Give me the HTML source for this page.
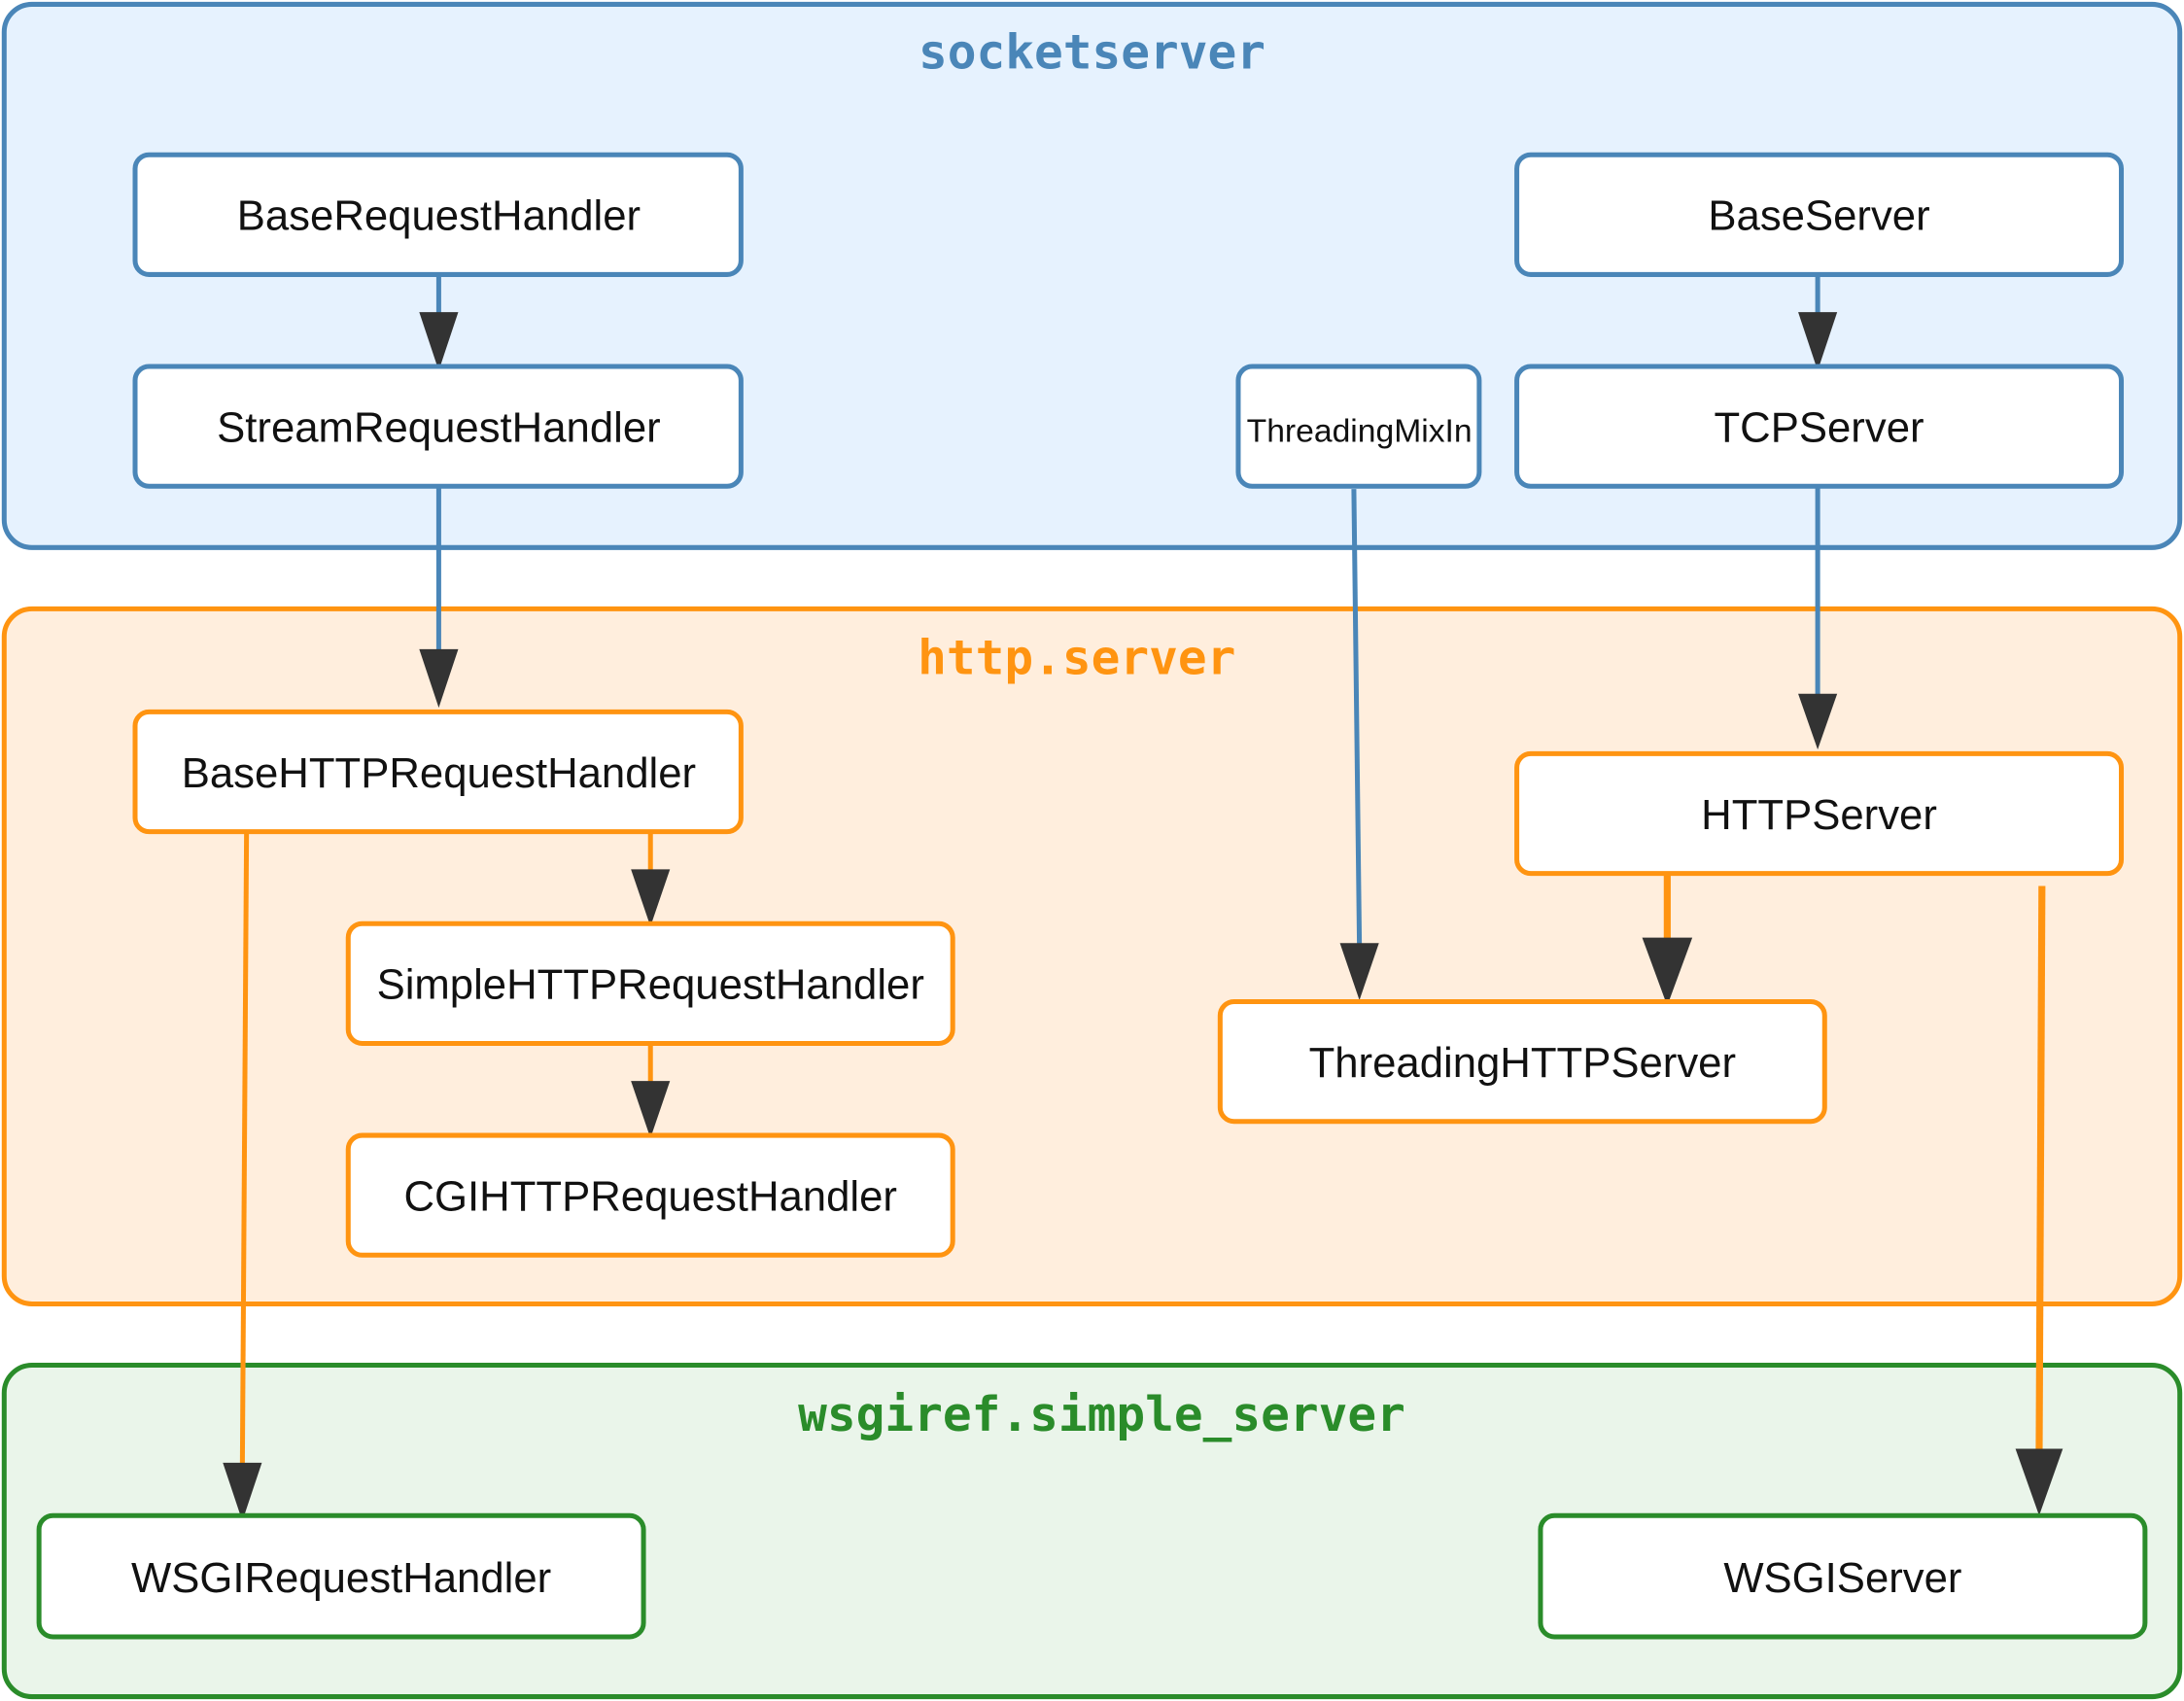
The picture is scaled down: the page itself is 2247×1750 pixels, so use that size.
<!DOCTYPE html>
<html><head><meta charset="utf-8"><style>html,body{margin:0;padding:0;background:#fff}svg{display:block}</style></head><body>
<svg width="2247" height="1750" viewBox="0 0 1568 1221" xmlns="http://www.w3.org/2000/svg">
<g stroke-width="3.5">
<rect x="3" y="3" width="1562" height="390" rx="20" fill="#e6f2fe" stroke="#4a86b8"/>
<rect x="3" y="437" width="1562" height="499" rx="20" fill="#ffeedd" stroke="#ff9411"/>
<rect x="3" y="980" width="1562" height="238" rx="20" fill="#eaf5ea" stroke="#2a8c2a"/>
</g>
<g font-family="'DejaVu Sans Mono',monospace" font-weight="bold" font-size="34.5" text-anchor="middle">
<text x="784" y="49" fill="#4a86b8">socketserver</text>
<text x="773" y="484" fill="#ff9411">http.server</text>
<text x="791" y="1027" fill="#2a8c2a">wsgiref.simple_server</text>
</g>
<g fill="none" stroke-width="3.5">
<line x1="315" y1="197" x2="315" y2="230" stroke="#4a86b8"/>
<line x1="315" y1="349" x2="315" y2="470" stroke="#4a86b8"/>
<line x1="1305" y1="197" x2="1305" y2="230" stroke="#4a86b8"/>
<line x1="1305" y1="349" x2="1305" y2="502" stroke="#4a86b8"/>
<line x1="972" y1="351" x2="976" y2="680" stroke="#4a86b8"/>
<line x1="467" y1="597" x2="467" y2="628" stroke="#ff9411"/>
<line x1="467" y1="749" x2="467" y2="780" stroke="#ff9411"/>
<line x1="177" y1="597" x2="174" y2="1054" stroke="#ff9411"/>
<line x1="1197" y1="627" x2="1197" y2="676" stroke="#ff9411" stroke-width="5"/>
<line x1="1466" y1="636" x2="1464" y2="1044" stroke="#ff9411" stroke-width="5"/>
</g>
<g fill="#333">
<polygon points="301,224 329,224 315,266"/>
<polygon points="301,466 329,466 315,508"/>
<polygon points="1291,224 1319,224 1305,266"/>
<polygon points="1291,498 1319,498 1305,538"/>
<polygon points="962,677 990,677 976,718"/>
<polygon points="453,624 481,624 467,665"/>
<polygon points="453,776 481,776 467,817"/>
<polygon points="160,1050 188,1050 174,1092"/>
<polygon points="1179,673 1215,673 1197,722"/>
<polygon points="1447,1040 1481,1040 1464,1088"/>
</g>
<g fill="#fff" stroke-width="3.5">
<g stroke="#4a86b8">
<rect x="97" y="111" width="435" height="86" rx="10"/>
<rect x="97" y="263" width="435" height="86" rx="10"/>
<rect x="889" y="263" width="173" height="86" rx="10"/>
<rect x="1089" y="111" width="434" height="86" rx="10"/>
<rect x="1089" y="263" width="434" height="86" rx="10"/>
</g>
<g stroke="#ff9411">
<rect x="97" y="511" width="435" height="86" rx="10"/>
<rect x="1089" y="541" width="434" height="86" rx="10"/>
<rect x="250" y="663" width="434" height="86" rx="10"/>
<rect x="250" y="815" width="434" height="86" rx="10"/>
<rect x="876" y="719" width="434" height="86" rx="10"/>
</g>
<g stroke="#2a8c2a">
<rect x="28" y="1088" width="434" height="87" rx="10"/>
<rect x="1106" y="1088" width="434" height="87" rx="10"/>
</g>
</g>
<g font-family="'Liberation Sans',Arial,sans-serif" font-size="30.5" text-anchor="middle" fill="#111">
<text x="315" y="165">BaseRequestHandler</text>
<text x="315" y="317">StreamRequestHandler</text>
<text x="976" y="317" font-size="23.5">ThreadingMixIn</text>
<text x="1306" y="165">BaseServer</text>
<text x="1306" y="317">TCPServer</text>
<text x="315" y="565">BaseHTTPRequestHandler</text>
<text x="1306" y="595">HTTPServer</text>
<text x="467" y="717">SimpleHTTPRequestHandler</text>
<text x="467" y="869">CGIHTTPRequestHandler</text>
<text x="1093" y="773">ThreadingHTTPServer</text>
<text x="245" y="1143">WSGIRequestHandler</text>
<text x="1323" y="1143">WSGIServer</text>
</g>
</svg>
</body></html>
